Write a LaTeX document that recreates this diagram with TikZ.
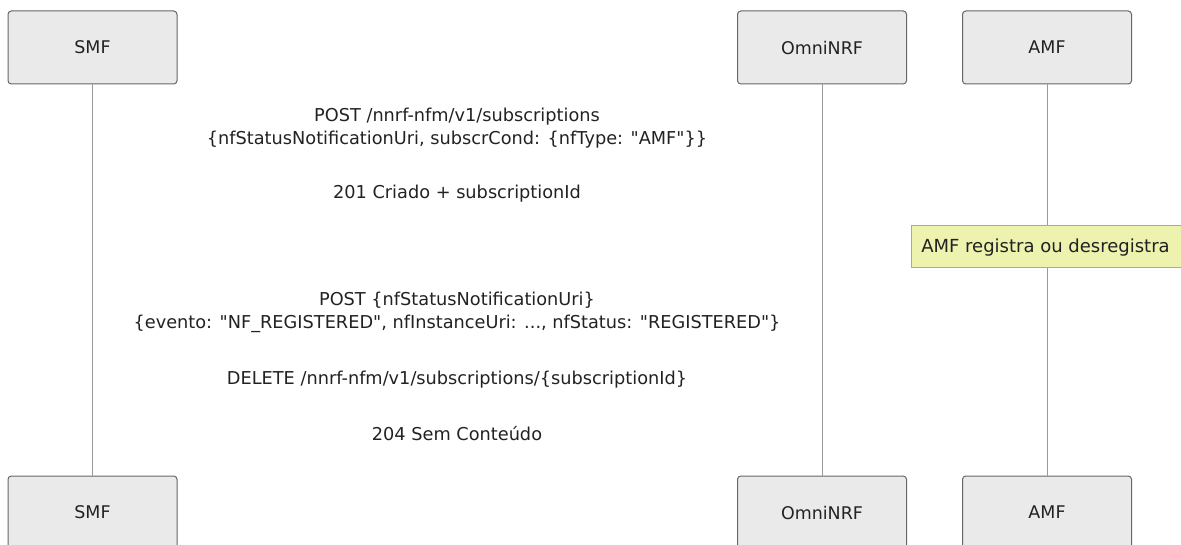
\documentclass[tikz,border=0pt]{standalone}
\usepackage{fontspec}
\setmainfont{DejaVu Sans}[Ligatures=TeXOff]
\definecolor{actfill}{HTML}{EAEAEA}
\definecolor{actdraw}{HTML}{666666}
\definecolor{lifecol}{HTML}{999999}
\definecolor{notefill}{HTML}{EDF2AE}
\definecolor{notedraw}{HTML}{AAAA99}
\definecolor{txt}{HTML}{222222}
\begin{document}
\begin{tikzpicture}[x=0.75pt,y=-0.75pt,
  actor/.style={draw=actdraw,fill=actfill,rounded corners=2.5pt,line width=0.75pt,
    minimum width=169*0.75pt,minimum height=73*0.75pt,inner sep=0pt,font=\fontsize{13.1}{15}\selectfont,text=txt},
  life/.style={draw=lifecol,line width=0.75pt},
  msg/.style={font=\fontsize{13.3}{17.25}\selectfont,text=txt,align=center,inner sep=0pt},
  notebox/.style={draw=notedraw,fill=notefill,line width=0.75pt,minimum height=42*0.75pt,inner sep=0pt,anchor=west},
]
\clip (0,0) rectangle (1181,545);
\useasboundingbox (0,0) rectangle (1181,545);
% actors top
\node[actor] (smfT) at (92.5,47.5) {SMF};
\node[actor] (nrfT) at (822,47.5) {OmniNRF};
\node[actor] (amfT) at (1047,47.5) {AMF};
% actors bottom
\node[actor] (smfB) at (92.5,512.5) {SMF};
\node[actor] (nrfB) at (822,512.5) {OmniNRF};
\node[actor] (amfB) at (1047,512.5) {AMF};
% lifelines
\draw[life] (smfT.south) -- (smfB.north);
\draw[life] (nrfT.south) -- (nrfB.north);
\draw[life] (amfT.south) -- (amfB.north);
% note
\node[notebox,minimum width=290*0.75pt] (note) at (911,247) {};
\node[msg,anchor=west,font=\fontsize{13.5}{16}\selectfont] (notetxt) at (921,248) {AMF registra ou desregistra};
% message labels
\node[msg] (m1) at (457,128.5) {POST /nnrf-nfm/v1/subscriptions\\\{nfStatusNotificationUri, subscrCond: \{nfType: "AMF"\}\}};
\node[msg] (m2) at (457,194) {201 Criado + subscriptionId};
\node[msg] (m3) at (457,312.5) {POST \{nfStatusNotificationUri\}\\\{evento: "NF\_REGISTERED", nfInstanceUri: ..., nfStatus: "REGISTERED"\}};
\node[msg] (m4) at (457,380) {DELETE /nnrf-nfm/v1/subscriptions/\{subscriptionId\}};
\node[msg] (m5) at (457,434) {204 Sem Conteúdo};
\end{tikzpicture}
\end{document}
